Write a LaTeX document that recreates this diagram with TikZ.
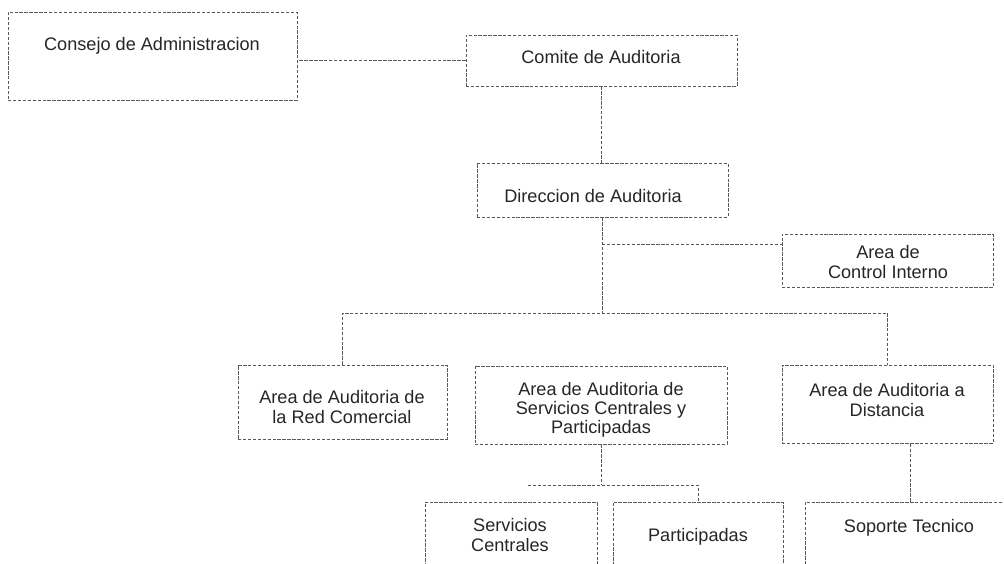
\documentclass[tikz,border=0pt]{standalone}
\usepackage{fontspec}
\setmainfont{Liberation Sans}
\begin{document}
\begin{tikzpicture}[x=0.75pt,y=-0.75pt,
  orgbox/.style={draw=black!65,line width=0.6pt,dash pattern=on 2.5pt off 1.2pt,rectangle,inner sep=0pt},
  orgtext/.style={font=\fontsize{13.6}{14.4}\selectfont,text=black!85,align=center,inner sep=0pt},
  link/.style={draw=black!65,line width=0.6pt,dash pattern=on 2.5pt off 1.2pt}]
\useasboundingbox (0,0) rectangle (1004,564);
\clip (0,0) rectangle (1004,564);
\fill[white] (0,0) rectangle (1004,564);
% boxes
\node[orgbox,minimum width=289*0.75pt,minimum height=88*0.75pt] (consejo) at (152.5,56) {};
\node[orgbox,minimum width=271*0.75pt,minimum height=51*0.75pt] (comite) at (601.5,60.5) {};
\node[orgbox,minimum width=251*0.75pt,minimum height=54*0.75pt] (direccion) at (602.5,190) {};
\node[orgbox,minimum width=211*0.75pt,minimum height=53*0.75pt] (control) at (887.5,260.5) {};
\node[orgbox,minimum width=209*0.75pt,minimum height=74*0.75pt] (redcom) at (342.5,402) {};
\node[orgbox,minimum width=252*0.75pt,minimum height=78*0.75pt] (servpart) at (601,405) {};
\node[orgbox,minimum width=211*0.75pt,minimum height=78*0.75pt] (distancia) at (887.5,404) {};
\node[orgbox,minimum width=172*0.75pt,minimum height=98*0.75pt] (servicios) at (511,551) {};
\node[orgbox,minimum width=170*0.75pt,minimum height=98*0.75pt] (particip) at (698,551) {};
\node[orgbox,minimum width=210*0.75pt,minimum height=98*0.75pt] (soporte) at (910,551) {};
% texts
\node[orgtext] (consejoT) at (152,46) {Consejo de Administracion};
\node[orgtext] (comiteT) at (601,57) {Comite de Auditoria};
\node[orgtext] (direccionT) at (593,196) {Direccion de Auditoria};
\node[orgtext] (controlT) at (888,262) {Area de\\Control Interno};
\node[orgtext] (redcomT) at (342,407) {Area de Auditoria de\\la Red Comercial};
\node[orgtext] (servpartT) at (601,410) {Area de Auditoria de\\Servicios Centrales y\\Participadas};
\node[orgtext] (distanciaT) at (887,400) {Area de Auditoria a\\Distancia};
\node[orgtext] (serviciosT) at (510,535) {Servicios\\Centrales};
\node[orgtext] (participT) at (698,537) {Participadas};
\node[orgtext] (soporteT) at (909,528) {Soporte Tecnico};
% connector points
\coordinate (bus) at (602,313);
\coordinate (ci) at (602,244);
\coordinate (sj) at (528,485);
% connectors
\draw[link] (comite.west) -- (comite.west -| consejo.east);
\draw[link] (comite.south) -- (comite.south |- direccion.north);
\draw[link] (direccion.south) -- (direccion.south |- bus);
\draw[link] (ci) -- (ci -| control.west);
\draw[link] (redcom.north) -- (redcom.north |- bus) -- (distancia.north |- bus) -- (distancia.north);
\draw[link] (servpart.south) -- (servpart.south |- sj);
\draw[link] (sj) -- (sj -| particip.north) -- (particip.north);
\draw[link] (soporte.north) -- (soporte.north |- distancia.south);
\end{tikzpicture}
\end{document}
